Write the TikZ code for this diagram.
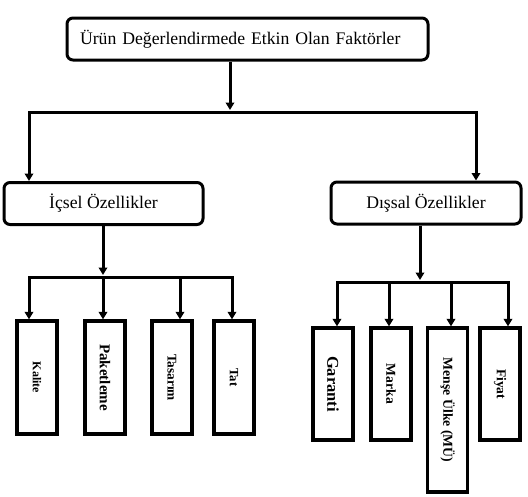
\documentclass[tikz,border=0pt]{standalone}
\usepackage{fontspec}
\usepackage{graphicx}
\setmainfont{Liberation Serif}
\usetikzlibrary{arrows.meta}
\begin{document}
\begin{tikzpicture}[x=1pt,y=-1pt,
  every node/.style={line width=3pt, draw=black, inner sep=0pt},
  rbox/.style={rounded corners=6pt, minimum height=42pt, font=\fontsize{17.7}{20}\selectfont},
  vbox/.style={line width=3.3pt, minimum width=40pt, font=\bfseries},
  conn/.style={line width=3pt, line cap=rect},
  arr/.style={line width=3pt, -{Triangle[width=8.5pt,length=7.5pt]}}]
\useasboundingbox (0,0) rectangle (528,496);
% top
\node[rbox, minimum width=361pt, text width=335pt, align=left] (top) at (247.5,39) {Ürün Değerlendirmede Etkin Olan Faktörler};
\node[rbox, minimum width=199pt] (ic) at (103.5,203.5) {İçsel Özellikler};
\node[rbox, minimum width=190pt] (dis) at (426,203) {Dışsal Özellikler};
% left children
\node[vbox, minimum height=113pt] (kal) at (37,377.5) {\fontsize{12}{14}\selectfont\rotatebox{-90}{Kalite}};
\node[vbox, minimum height=113pt] (pak) at (105,377.5) {\fontsize{15}{17}\selectfont\rotatebox{-90}{Paketleme}};
\node[vbox, minimum height=113pt] (tas) at (172,377.5) {\fontsize{13.3}{15}\selectfont\rotatebox{-90}{Tasarım}};
\node[vbox, minimum height=113pt] (tat) at (234,377.5) {\fontsize{12.7}{15}\selectfont\rotatebox{-90}{Tat}};
% right children
\node[vbox, minimum height=112pt] (gar) at (333,384) {\fontsize{16.5}{18}\selectfont\rotatebox{-90}{Garanti}};
\node[vbox, minimum height=112pt] (mar) at (391,384) {\fontsize{13.6}{16}\selectfont\rotatebox{-90}{Marka}};
\node[vbox, minimum height=164pt] (men) at (447.5,410) {\fontsize{13.7}{16}\selectfont\rotatebox{-90}{Menşe Ülke (MÜ)}};
\node[vbox, minimum height=112pt] (fiy) at (500,384) {\fontsize{13.5}{16}\selectfont\rotatebox{-90}{Fiyat}};
% coordinates
\coordinate (t0) at (230,60);
\coordinate (t1) at (230,110);
\coordinate (bl) at (29,112);
\coordinate (br) at (476,112);
\coordinate (l0) at (103,225);
\coordinate (l1) at (103,275);
\coordinate (la) at (29,277);
\coordinate (lb) at (103,277);
\coordinate (lc) at (180,277);
\coordinate (ld) at (232,277);
\coordinate (r0) at (420,224);
\coordinate (r1) at (420,280);
\coordinate (ra) at (337,282);
\coordinate (rb) at (389,282);
\coordinate (rc) at (451,282);
\coordinate (rd) at (508,282);
% connectors
\draw[arr] (t0 |- top.south) -- (t1);
\draw[conn] (bl) -- (br);
\draw[arr] (bl) -- (bl |- ic.north);
\draw[arr] (br) -- (br |- dis.north);
\draw[arr] (l0 |- ic.south) -- (l1);
\draw[conn] (la) -- (ld);
\draw[arr] (la) -- (la |- kal.north);
\draw[arr] (lb) -- (lb |- pak.north);
\draw[arr] (lc) -- (lc |- tas.north);
\draw[arr] (ld) -- (ld |- tat.north);
\draw[arr] (r0 |- dis.south) -- (r1);
\draw[conn] (ra) -- (rd);
\draw[arr] (ra) -- (ra |- gar.north);
\draw[arr] (rb) -- (rb |- mar.north);
\draw[arr] (rc) -- (rc |- men.north);
\draw[arr] (rd) -- (rd |- fiy.north);
\end{tikzpicture}
\end{document}
